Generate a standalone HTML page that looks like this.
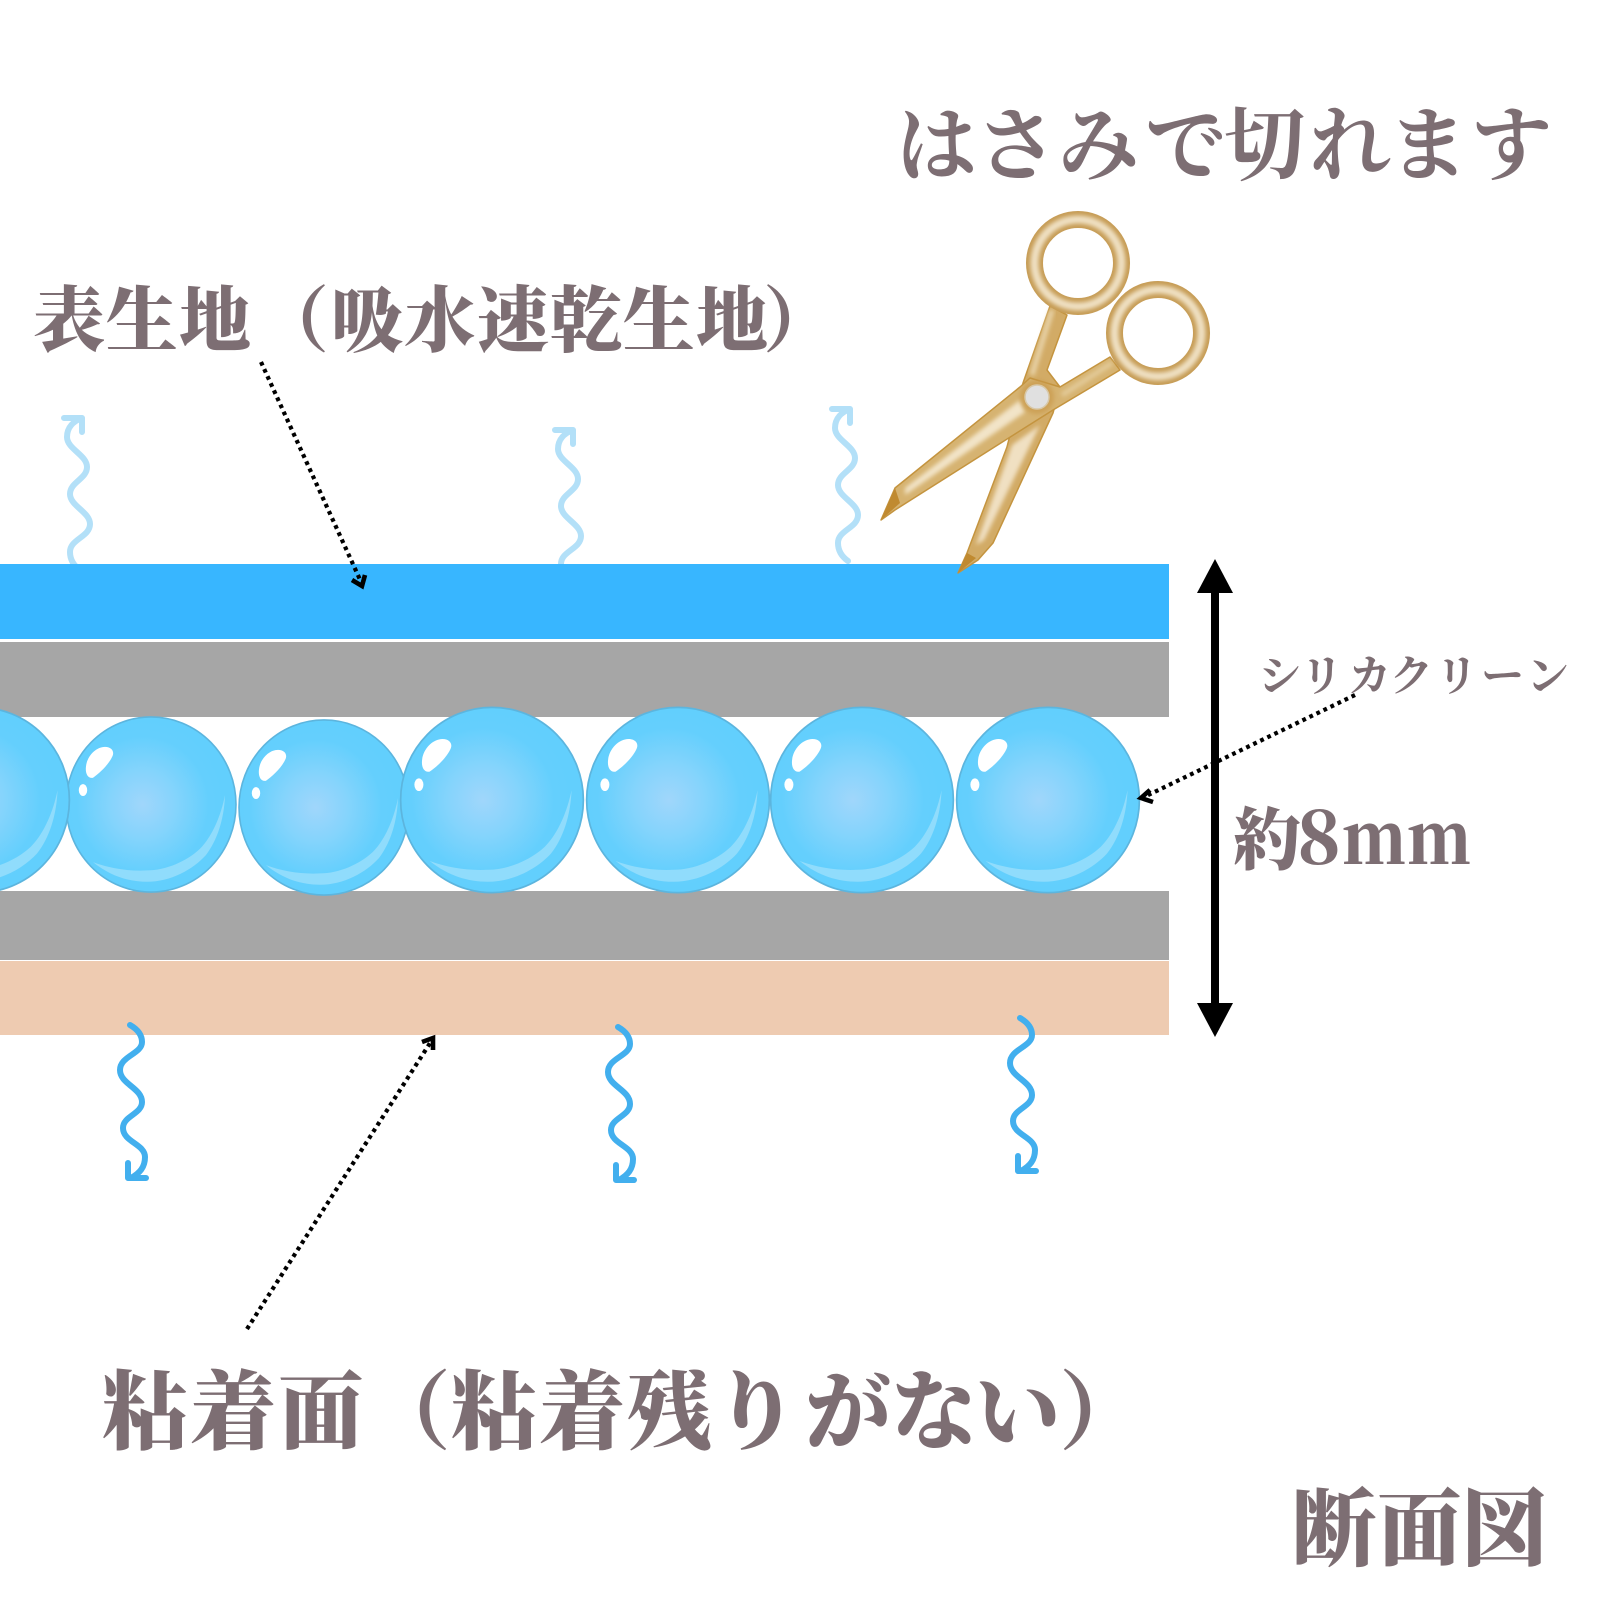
<!DOCTYPE html>
<html lang="ja"><head><meta charset="utf-8"><title>断面図</title>
<style>
html,body{margin:0;padding:0;background:#fff}
svg{display:block}
text{font-family:"Noto Serif CJK SC","Noto Serif CJK JP",serif;font-weight:900;fill:#7d6e73}
</style></head><body>
<svg xmlns="http://www.w3.org/2000/svg" width="1600" height="1600" viewBox="0 0 1600 1600">
<defs>
<radialGradient id="bg" cx="0.45" cy="0.5" r="0.5">
<stop offset="0" stop-color="#a0d6fb"/><stop offset="0.38" stop-color="#85d4fc"/><stop offset="0.78" stop-color="#64cffd"/><stop offset="1" stop-color="#62cffd"/>
</radialGradient>
<filter id="soft" x="-20%" y="-20%" width="140%" height="140%"><feGaussianBlur stdDeviation="2"/></filter>
<g id="bubble">
<circle r="85" fill="url(#bg)" stroke="#5cb5de" stroke-width="1.6"/>
<path d="M-58 56C-40 70 -22 75 -4 75C20 75 42 63 55 49C66 35 73 15 74 -9C70 10 62 30 49 43C36 55 15 64 -4 64C-22 65 -42 62 -58 56Z" fill="#90dcfc"/>
<path d="M-65 -37C-64 -47 -55 -56 -46 -56C-39 -56 -36 -51 -39 -46C-43 -38 -52 -30 -58 -26C-63 -25 -66 -30 -65 -37Z" fill="#fff"/>
<ellipse cx="-68" cy="-14" rx="4.2" ry="5.8" fill="#fff"/>
</g>
<path id="up" d="M848 561C841 556 838 550 838 543C838 530 858 528 858 515C858 503 838 497 838 485C838 473 855 470 855 458C855 446 835 440 835 428C835 418 842 412 850 409M832 409L850 409L850 423" fill="none" stroke="#b3e0f8" stroke-width="6" stroke-linecap="round" stroke-linejoin="round"/>
<path id="down" d="M130 1025C137 1029 142 1034 142 1042C142 1054 120 1056 120 1070C120 1084 142 1088 142 1102C142 1114 123 1116 123 1128C123 1142 145 1144 145 1157C145 1167 140 1173 131 1178M128 1163L128 1178L146 1178" fill="none" stroke="#42afee" stroke-width="6" stroke-linecap="round" stroke-linejoin="round"/>
</defs>
<rect width="1600" height="1600" fill="#fff"/>

<use href="#up" transform="translate(-768,9)"/>
<use href="#up" transform="translate(-277,21)"/>
<use href="#up"/>

<rect x="0" y="564" width="1169" height="75" fill="#38b6ff"/>
<rect x="0" y="642" width="1169" height="75" fill="#a6a6a6"/>
<rect x="0" y="891" width="1169" height="69" fill="#a6a6a6"/>
<rect x="0" y="961" width="1169" height="74" fill="#eecbb1"/>

<use href="#down"/>
<use href="#down" transform="translate(488,2)"/>
<use href="#down" transform="translate(890,-7)"/>

<use href="#bubble" transform="translate(151,804.5) scale(1,1.03)"/>
<use href="#bubble" transform="translate(324,807.5) scale(1,1.03)"/>
<use href="#bubble" transform="translate(-22,800) scale(1.075,1.09)"/>
<use href="#bubble" transform="translate(492,800) scale(1.075,1.09)"/>
<use href="#bubble" transform="translate(678,800) scale(1.075,1.09)"/>
<use href="#bubble" transform="translate(862,800) scale(1.075,1.09)"/>
<use href="#bubble" transform="translate(1048,800) scale(1.075,1.09)"/>

<!-- scissors -->
<g stroke-linejoin="round">
<path d="M1050 306L1067 315L1047 370L1060 387L1053 413L993 543L978 560L958 573L967 553L1007 447L1023 383Z" fill="#d2ab66" stroke="#c4943f" stroke-width="1.5"/>
<path d="M1040 425L1012 445L976 545L984 540Z" fill="#f0e0c2" filter="url(#soft)"/>
<path d="M1052 310L1032 375" stroke="#e8d3a8" stroke-width="5" fill="none" filter="url(#soft)"/>
<path d="M1110 357L1120 370L1053 410L895 510L881 520L895 488L1020 387L1030 378L1060 387Z" fill="#d6b371" stroke="#c4943f" stroke-width="1.5"/>
<path d="M1020 400L905 488L905 495L1025 412Z" fill="#f2e4c8" filter="url(#soft)"/>
<path d="M1062 395L1112 363" stroke="#e3cb9a" stroke-width="5" fill="none" filter="url(#soft)"/>
<path d="M881 520L895 488L900 503Z" fill="#c08a30"/>
<path d="M958 573L967 553L976 558Z" fill="#c08a30"/>
<circle cx="1078" cy="263" r="43.5" fill="none" stroke="#c69c55" stroke-width="17"/>
<circle cx="1078" cy="263" r="43.5" fill="none" stroke="#efe0c2" stroke-width="8" filter="url(#soft)"/>
<circle cx="1158" cy="333" r="43.5" fill="none" stroke="#c69c55" stroke-width="17"/>
<circle cx="1158" cy="333" r="43.5" fill="none" stroke="#efe0c2" stroke-width="8" filter="url(#soft)"/>
<circle cx="1037" cy="397" r="17" fill="#c99a4c" opacity=".7" filter="url(#soft)"/>
<circle cx="1037" cy="397" r="12" fill="#e0e0e0" stroke="#d8c8a8" stroke-width="1.5"/>
</g>

<!-- dimension arrow -->
<rect x="1211" y="590" width="8" height="415" fill="#000"/>
<polygon points="1215,559 1233,593 1197,593" fill="#000"/>
<polygon points="1215,1037 1233,1003 1197,1003" fill="#000"/>

<!-- dotted leaders -->
<g fill="none" stroke="#000" stroke-width="4.2">
<path d="M261 362L362 584" stroke-dasharray="3.8 4"/>
<path d="M352 580L362 586L365 575" stroke-width="4.6"/>
<path d="M247 1329L432 1040" stroke-dasharray="3.8 4"/>
<path d="M422 1042L433 1038L433 1050" stroke-width="4.6"/>
<path d="M1355 695L1142 798" stroke-dasharray="3.8 4"/>
<path d="M1150 790L1141 798L1153 802" stroke-width="4.6"/>
</g>

<!-- labels -->
<text x="896 976 1058 1145 1224 1310 1388 1471" y="174" font-size="81" style="font-weight:700">はさみで切れます</text>
<text x="33 106 179 257 331 404 477 550 623 696 763" y="346" font-size="72">表生地（吸水速乾生地）</text>
<text x="1258 1300 1348 1390 1435 1481 1526" y="691" font-size="43" style="font-weight:700">シリカクリーン</text>
<text x="1233" y="864" font-size="68">約</text>
<text x="1297" y="864" font-size="72">8</text>
<text transform="translate(1342,864) scale(.87,1)" font-size="72">m</text>
<text transform="translate(1407,864) scale(.87,1)" font-size="72">m</text>
<text x="102 190 278 365 451 539 626 713 805 891 975 1059" y="1442" font-size="86">粘着面（粘着残りがない）</text>
<text x="1292 1377 1462" y="1559" font-size="85">断面図</text>
</svg>
</body></html>
